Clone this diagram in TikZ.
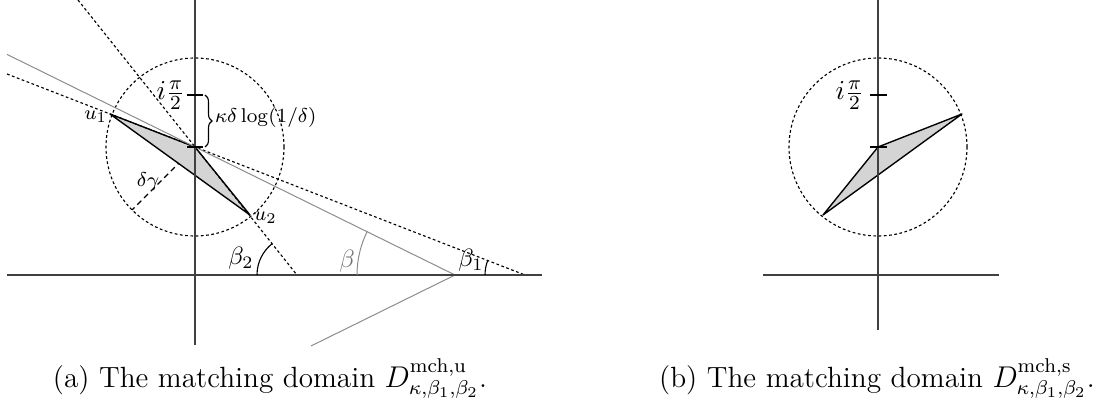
\documentclass[tikz,border=0pt]{standalone}
\usetikzlibrary{decorations.pathreplacing}
\begin{document}
\begin{tikzpicture}[x=0.4pt,y=0.4pt,
  axis/.style={black!75,line width=0.5pt},
  dotline/.style={line width=0.45pt,dash pattern=on 1.1pt off 1pt},
  radline/.style={line width=0.45pt,dash pattern=on 2.2pt off 1.6pt},
  grayline/.style={black!45,line width=0.4pt},
  matchdom/.style={fill=black!17,draw=black,line width=0.55pt,line join=round},
  tick/.style={black,line width=0.5pt},
  lab/.style={inner sep=1pt,font=\fontsize{10}{12}\selectfont},
  fraclab/.style={inner sep=1pt,anchor=east,font=\fontsize{10.8}{13}\selectfont},
  smlab/.style={inner sep=1pt,font=\fontsize{8.3}{10}\selectfont},
  caplab/.style={inner sep=0pt,anchor=base,font=\fontsize{11.7}{14}\selectfont}]
\useasboundingbox (0,0) rectangle (1105,407);
% ---------- left figure ----------
\coordinate (C) at (195,260);
\coordinate (U1) at (110,293);
\coordinate (U2) at (250,192);
\coordinate (R) at (132,197);
\coordinate (A1) at (78,407);
\coordinate (A2) at (297,132);
\coordinate (B1) at (7,333);
\coordinate (B2) at (525,132);
\coordinate (G1) at (7,352.6);
\coordinate (G2) at (455,132);
\coordinate (G3) at (311,61);
\coordinate (XL) at (7,132);
\coordinate (XR) at (542,132);
\coordinate (YT) at (195,407);
\coordinate (YB) at (195,62);
\draw[radline] (C) -- (R);
\draw[matchdom] (U1) -- (C) -- (U2) -- cycle;
\draw[dotline] (C) circle[radius=89];
\draw[dotline] (A1) -- (A2);
\draw[dotline] (B1) -- (B2);
\draw[grayline] (G1) -- (G2) -- (G3);
\draw[axis] (XL) -- (XR);
\draw[axis] (YT) -- (YB);
\draw[tick] (187,312) -- (203,312);
\draw[tick] (187,260) -- (203,260);
\draw[black,line width=0.45pt] (A2) ++(180:40) arc[start angle=180,end angle=128.5,radius=40];
\draw[grayline] (G2) ++(180:98) arc[start angle=180,end angle=153.8,radius=98];
\draw[black,line width=0.45pt] (B2) ++(180:40) arc[start angle=180,end angle=158.8,radius=40];
\draw[line width=0.45pt,decorate,decoration={brace,amplitude=2.8pt}] (205,312) -- (205,260);
\node[fraclab] (ipi) at (188,312) {$i\frac{\pi}{2}$};
\node[smlab,anchor=west] (kap) at (212,289) {$\kappa\delta\log(1/\delta)$};
\node[smlab,anchor=east] (u1) at (110,290) {$u_1$};
\node[smlab,anchor=west] (u2) at (251,189) {$u_2$};
\node[smlab] (dg) at (148,225) {$\delta\gamma$};
\node[lab] (b2) at (241,149) {$\beta_2$};
\node[lab,text=black!55] (b) at (347,146) {$\beta$};
\node[lab] (b1) at (471,147) {$\beta_1$};
\node[caplab] (capa) at (270,20) {(a) The matching domain $D^{\mathrm{mch,u}}_{\kappa,\beta_1,\beta_2}$.};
% ---------- right figure ----------
\coordinate (C2) at (878,260);
\coordinate (V1) at (962,293);
\coordinate (V2) at (823,192);
\coordinate (XL2) at (763,132);
\coordinate (XR2) at (999,132);
\coordinate (YT2) at (878,407);
\coordinate (YB2) at (878,77);
\draw[matchdom] (C2) -- (V1) -- (V2) -- cycle;
\draw[dotline] (C2) circle[radius=89];
\draw[axis] (XL2) -- (XR2);
\draw[axis] (YT2) -- (YB2);
\draw[tick] (870,312) -- (887,312);
\draw[tick] (870,260) -- (887,260);
\node[fraclab] (ipi2) at (867,312) {$i\frac{\pi}{2}$};
\node[caplab] (capb) at (877,20) {(b) The matching domain $D^{\mathrm{mch,s}}_{\kappa,\beta_1,\beta_2}$.};
\end{tikzpicture}
\end{document}
